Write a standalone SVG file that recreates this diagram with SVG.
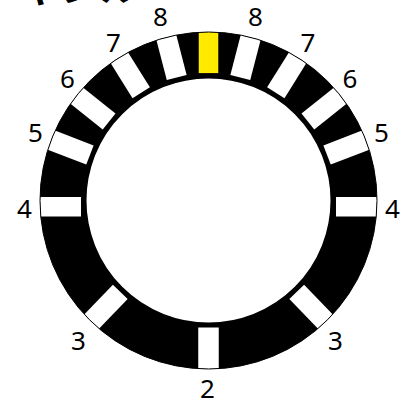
<svg xmlns="http://www.w3.org/2000/svg" width="411" height="401" viewBox="0 0 411 401">
<style>
.lbl{font-family:"Noto Sans","Open Sans",sans-serif;font-size:26px;fill:#000;text-anchor:middle}
.mk{fill:#fff}
.title{font-family:"Noto Sans CJK JP",sans-serif;font-size:40px;font-weight:bold;fill:#000}
</style>
<defs>
<clipPath id="outer"><circle cx="208.5" cy="200.5" r="168.5"/></clipPath>
<rect id="m" x="198.25" y="31.5" width="20.5" height="42"/>
</defs>
<rect width="411" height="401" fill="#fff"/>
<text class="title" x="20" y="1">ャンル</text>
<g id="ring">
<circle cx="208.5" cy="200.5" r="145.25" fill="none" stroke="#000" stroke-width="46.5"/>
</g>
<g id="marks" clip-path="url(#outer)">
<use href="#m" fill="#ffea00" stroke="#000" stroke-width="0.8"/>
<use href="#m" class="mk" transform="rotate(14.5 208.5 200.5)"/>
<use href="#m" class="mk" transform="rotate(-14.5 208.5 200.5)"/>
<use href="#m" class="mk" transform="rotate(32 208.5 200.5)"/>
<use href="#m" class="mk" transform="rotate(-32 208.5 200.5)"/>
<use href="#m" class="mk" transform="rotate(51.5 208.5 200.5)"/>
<use href="#m" class="mk" transform="rotate(-51.5 208.5 200.5)"/>
<use href="#m" class="mk" transform="rotate(69 208.5 200.5)"/>
<use href="#m" class="mk" transform="rotate(-69 208.5 200.5)"/>
<rect class="mk" x="336" y="197" width="44" height="19.5"/>
<rect class="mk" x="37" y="197" width="44" height="19.5"/>
<use href="#m" class="mk" transform="rotate(136 208.5 200.5)"/>
<use href="#m" class="mk" transform="rotate(-136 208.5 200.5)"/>
<use href="#m" class="mk" transform="rotate(180 208.5 200.5)"/>
</g>
<circle cx="208.5" cy="200.5" r="168.5" fill="none" stroke="#000" stroke-width="1"/>
<g id="labels">
<text class="lbl" x="160.5" y="26">8</text>
<text class="lbl" x="255.5" y="26">8</text>
<text class="lbl" x="113.5" y="52">7</text>
<text class="lbl" x="308" y="52">7</text>
<text class="lbl" x="67.5" y="88">6</text>
<text class="lbl" x="350" y="88">6</text>
<text class="lbl" x="35.5" y="142">5</text>
<text class="lbl" x="381.5" y="142">5</text>
<text class="lbl" x="24.5" y="218">4</text>
<text class="lbl" x="392.5" y="218">4</text>
<text class="lbl" x="78.5" y="350">3</text>
<text class="lbl" x="335.5" y="350">3</text>
<text class="lbl" x="207.5" y="398">2</text>
</g>
</svg>
